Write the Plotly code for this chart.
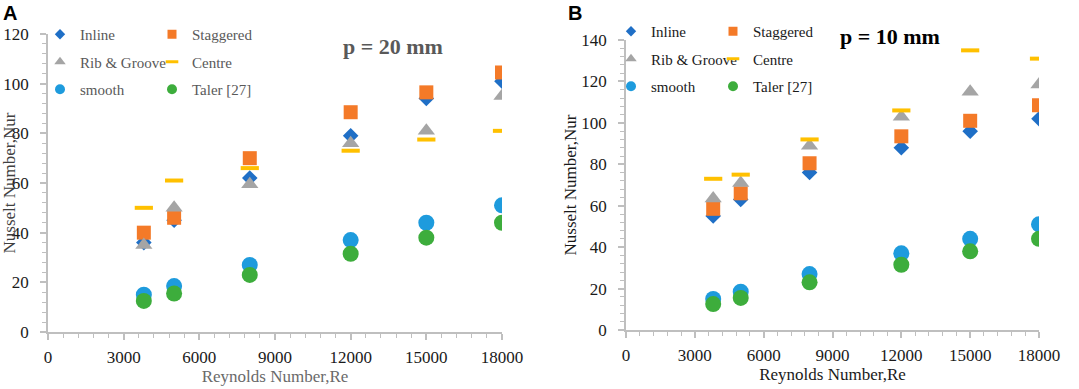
import plotly.graph_objects as go

# ---------------- data ----------------
reynolds = [3800, 5000, 8000, 12000, 15000, 18000]

# Panel A : p = 20 mm
a_inline = [36, 45, 62, 79, 94, 101]
a_staggered = [40, 46, 70, 88.5, 96.5, 104.5]
a_rib = [35, 50, 59.5, 76, 81, 95]
a_centre = [50, 61, 66, 73, 77.5, 81]
a_smooth = [15, 18.5, 27, 37, 44, 51]
a_taler = [12.5, 15.5, 23, 31.5, 38, 44]

# Panel B : p = 10 mm
b_inline = [55, 63, 76, 88, 96, 102]
b_staggered = [58.5, 66, 80.5, 93.5, 101, 108.5]
b_rib = [63.5, 71, 89, 103, 115, 118.5]
b_centre = [73, 75, 92, 106, 135, 131]
b_smooth = [15, 18.5, 27, 37, 44, 51]
b_taler = [12.5, 15.5, 23, 31.5, 38, 44]

series_names = ["Inline", "Staggered", "Rib & Groove", "Centre", "smooth", "Taler [27]"]
x_ticks = [0, 3000, 6000, 9000, 12000, 15000, 18000]

# ---------------- styles ----------------
SERIF = "Liberation Serif"
styles = {
    "Inline": dict(symbol="diamond", color="#1F6FC6", size=12),
    "Staggered": dict(symbol="square", color="#F47A28", size=14),
    "Rib & Groove": dict(symbol="triangle-up", color="#A5A5A5", size=15),
    "Centre": dict(symbol="line-ew", color="#FFC000", size=13),
    "smooth": dict(symbol="circle", color="#1E9BDD", size=16),
    "Taler [27]": dict(symbol="circle", color="#3DAD3C", size=16),
}
legend_small = {"Inline": 8, "Staggered": 9, "Rib & Groove": 10, "Centre": 9,
                "smooth": 10, "Taler [27]": 10}


def marker(name, size=None):
    s = styles[name]
    sz = size if size is not None else s["size"]
    if s["symbol"] == "line-ew":
        return dict(symbol="line-ew", size=sz, color=s["color"],
                    line=dict(color=s["color"], width=4 if size is None else 3))
    return dict(symbol=s["symbol"], size=sz, color=s["color"], line=dict(width=0))


fig = go.Figure()

panels = [
    ("x", "y", [a_inline, a_staggered, a_rib, a_centre, a_smooth, a_taler], ("legend", "legend2")),
    ("x2", "y2", [b_inline, b_staggered, b_rib, b_centre, b_smooth, b_taler], ("legend3", "legend4")),
]

for xa, ya, values, legs in panels:
    for name, vals in zip(series_names, values):
        fig.add_trace(go.Scatter(x=reynolds, y=vals, mode="markers", name=name,
                                 marker=marker(name), xaxis=xa, yaxis=ya,
                                 showlegend=False))
    # legend entries (two columns)
    for i, name in enumerate(series_names):
        leg = legs[0] if i % 2 == 0 else legs[1]
        fig.add_trace(go.Scatter(x=[None], y=[None], mode="markers", name=name,
                                 marker=marker(name, legend_small[name]),
                                 xaxis=xa, yaxis=ya, legend=leg,
                                 legendgroup=f"{leg}_{name}", showlegend=True))

W, H = 1079, 389


def px_x(p):
    return p / W


def px_y(p):
    return 1 - p / H


axis_common = dict(
    showgrid=False, zeroline=False, showline=True, linecolor="#BFBFBF", linewidth=1.5,
    ticks="outside", ticklen=6, tickcolor="#BFBFBF", tickwidth=1.5, automargin=False,
    tickfont=dict(family=SERIF, size=17, color="#1a1a1a"),
)
minor_x = dict(dtick=600, ticks="outside", ticklen=4, tickcolor="#BFBFBF", tickwidth=1.2)
minor_y = dict(dtick=4, ticks="outside", ticklen=4, tickcolor="#BFBFBF", tickwidth=1.2)

fig.update_layout(
    width=W, height=H,
    margin=dict(l=0, r=0, t=0, b=0, autoexpand=False),
    plot_bgcolor="white", paper_bgcolor="white",
    font=dict(family=SERIF),
    xaxis=dict(axis_common, domain=[px_x(48), px_x(502)], range=[0, 18000],
               tickvals=x_ticks, tickformat="d", ticklabelstandoff=3, minor=minor_x,
               title=dict(text="Reynolds Number,Re", standoff=2,
                          font=dict(family=SERIF, size=17, color="#6a6a6a")),
               anchor="y"),
    yaxis=dict(axis_common, domain=[px_y(332), px_y(34)], range=[0, 120], dtick=20,
               ticklabelstandoff=8, minor=minor_y,
               title=dict(text="Nusselt Number,Nur", standoff=0,
                          font=dict(family=SERIF, size=17, color="#404040")),
               anchor="x"),
    xaxis2=dict(axis_common, domain=[px_x(626), px_x(1039)], range=[0, 18000],
                tickvals=x_ticks, tickformat="d", ticklabelstandoff=3, minor=minor_x,
                title=dict(text="Reynolds Number,Re", standoff=2,
                           font=dict(family=SERIF, size=17, color="#1a1a1a")),
                anchor="y2"),
    yaxis2=dict(axis_common, domain=[px_y(330), px_y(40)], range=[0, 140], dtick=20,
                ticklabelstandoff=8, minor=minor_y,
                title=dict(text="Nusselt Number,Nur", standoff=0,
                           font=dict(family=SERIF, size=17, color="#1a1a1a")),
                anchor="x2"),
)

leg_common = dict(orientation="v", xanchor="left", yanchor="top", bgcolor="rgba(0,0,0,0)",
                  tracegroupgap=5, itemwidth=30, borderwidth=0)
fig.update_layout(
    legend=dict(leg_common, x=px_x(40), y=px_y(18),
                font=dict(family=SERIF, size=15, color="#595959")),
    legend2=dict(leg_common, x=px_x(152), y=px_y(18),
                 font=dict(family=SERIF, size=15, color="#595959")),
    legend3=dict(leg_common, x=px_x(611), y=px_y(15),
                 font=dict(family=SERIF, size=15, color="#1a1a1a")),
    legend4=dict(leg_common, x=px_x(713), y=px_y(15),
                 font=dict(family=SERIF, size=15, color="#1a1a1a")),
)

fig.add_annotation(text="<b>p = 20 mm</b>", xref="paper", yref="paper",
                   x=px_x(393), y=px_y(46), xanchor="center", yanchor="middle",
                   showarrow=False, font=dict(family=SERIF, size=22, color="#595959"))
fig.add_annotation(text="<b>p = 10 mm</b>", xref="paper", yref="paper",
                   x=px_x(890), y=px_y(37), xanchor="center", yanchor="middle",
                   showarrow=False, font=dict(family=SERIF, size=22, color="#000000"))
fig.add_annotation(text="<b>A</b>", xref="paper", yref="paper",
                   x=px_x(1), y=px_y(0), xanchor="left", yanchor="top", showarrow=False,
                   font=dict(family="Liberation Sans", size=20, color="#000000"))
fig.add_annotation(text="<b>B</b>", xref="paper", yref="paper",
                   x=px_x(566), y=px_y(0), xanchor="left", yanchor="top", showarrow=False,
                   font=dict(family="Liberation Sans", size=20, color="#000000"))

fig.write_html("out.html", config={"displayModeBar": False},
               post_script="document.body.style.margin='0';")
